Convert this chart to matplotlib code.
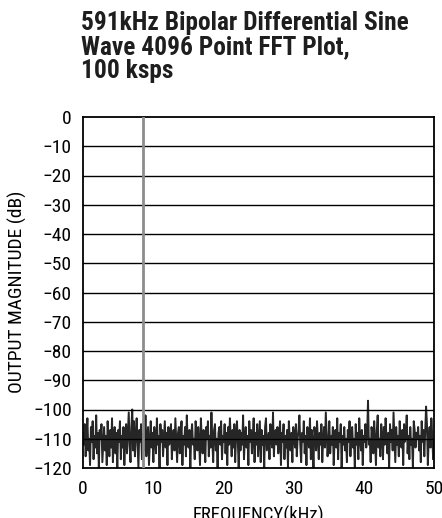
import matplotlib
matplotlib.use('Agg')
import matplotlib.pyplot as plt
import numpy as np

# FFT data
title_lines = ['591kHz Bipolar Differential Sine', 'Wave 4096 Point FFT Plot,', '100 ksps']
x_ticks = [0, 10, 20, 30, 40, 50]
y_ticks = [0, -10, -20, -30, -40, -50, -60, -70, -80, -90, -100, -110, -120]

signal_freq = 8.6      # kHz, alias of the 591kHz tone
signal_level = 0.0     # dB

noise_floor = [
    -108, -112, -105, -116, -109, -103, -114, -110, -119, -106, -111, -104, -117, -109, -113, -102, -115, -108, -120, -107,
    -110, -105, -118, -112, -106, -114, -109, -119, -104, -111, -116, -107, -113, -103, -118, -110, -106, -115, -108, -120,
    -107, -111, -104, -117, -109, -113, -106, -119, -110, -105, -115, -108, -101, -112, -118, -106, -100, -114, -104, -116,
    -109, -103, -112, -120, -107, -111, -105, -117, -110, -108, -114, -102, -116, -109, -106, -119, -111, -104, -113, -108,
    -118, -106, -110, -115, -103, -112, -109, -120, -105, -111, -107, -116, -110, -104, -113, -108, -119, -106, -112, -109,
    -105, -117, -110, -107, -114, -103, -111, -118, -108, -106, -115, -110, -104, -119, -109, -112, -106, -116, -102, -111,
    -113, -107, -120, -109, -105, -112, -110, -117, -104, -108, -114, -106, -111, -119, -103, -110, -115, -107, -112, -118,
    -106, -110, -104, -116, -109, -113, -101, -111, -118, -107, -105, -114, -110, -120, -108, -106, -112, -104, -117, -109,
    -111, -105, -115, -108, -119, -106, -112, -103, -110, -116, -107, -113, -105, -118, -109, -104, -111, -120, -107, -114,
    -108, -112, -102, -117, -110, -106, -113, -109, -119, -104, -111, -107, -115, -110, -103, -118, -108, -112, -105, -116,
    -110, -104, -118, -107, -112, -109, -120, -106, -103, -114, -111, -108, -117, -105, -110, -113, -101, -116, -109, -107,
    -112, -106, -115, -110, -104, -119, -108, -111, -105, -117, -109, -113, -107, -120, -104, -110, -114, -108, -118, -106,
    -109, -113, -105, -116, -110, -107, -102, -112, -118, -108, -111, -104, -115, -109, -119, -106, -110, -113, -103, -117,
    -107, -111, -120, -106, -109, -114, -104, -110, -117, -108, -112, -105, -118, -110, -106, -113, -101, -109, -116, -111,
    -104, -115, -109, -112, -106, -119, -110, -107, -113, -103, -117, -108, -111, -105, -120, -109, -112, -106, -114, -110,
    -118, -107, -111, -104, -116, -109, -106, -113, -110, -120, -105, -112, -108, -117, -103, -110, -114, -107, -119, -109,
    -111, -105, -113, -108, -97, -112, -110, -118, -106, -109, -115, -104, -111, -119, -107, -102, -113, -110, -116, -105,
    -109, -117, -106, -112, -103, -110, -115, -108, -120, -105, -111, -107, -114, -101, -110, -118, -106, -112, -109, -116,
    -104, -110, -113, -107, -119, -105, -111, -108, -102, -115, -109, -117, -106, -112, -110, -120, -104, -107, -113, -108,
    -110, -106, -114, -109, -118, -104, -111, -107, -116, -108, -99, -105, -119, -110, -106, -113, -103, -109, -117, -110,
]

plt.rcParams['font.family'] = ['Roboto Condensed', 'DejaVu Sans']


def main():
    fig = plt.figure(figsize=(4.42, 5.18), dpi=100)
    ax = fig.add_axes([83 / 442, 50 / 518, 351 / 442, 351 / 518])

    freqs = np.linspace(0, 50, len(noise_floor))

    for yv in y_ticks[1:-1]:
        ax.axhline(yv, color='black', lw=1.0, zorder=1)

    ax.plot(freqs, noise_floor, color='black', lw=1.4, alpha=0.85, zorder=2)
    ax.plot([signal_freq, signal_freq], [-120, signal_level], color='#8c8c8c', lw=2.0, zorder=3)

    ax.set_xlim(0, 50)
    ax.set_ylim(-120, 0)
    ax.set_xticks(x_ticks)
    ax.set_yticks(y_ticks)
    ax.tick_params(length=0, labelsize=14)
    ax.tick_params(axis='y', pad=8)
    ax.tick_params(axis='x', pad=9)
    for s in ax.spines.values():
        s.set_linewidth(1.3)

    ax.set_xlabel('FREQUENCY(kHz)', fontsize=13.5, labelpad=5)
    fig.text(17 / 442, 1 - 292 / 518, 'OUTPUT MAGNITUDE (dB)', rotation=90,
             ha='center', va='center', fontsize=14)

    fig.text(81 / 442, 1 - 11 / 518, '\n'.join(title_lines), ha='left', va='top',
             fontsize=18.3, fontweight='bold', linespacing=1.0, color='#1e1e1e')

    fig.savefig('out.png', dpi=100)


if __name__ == '__main__':
    main()
